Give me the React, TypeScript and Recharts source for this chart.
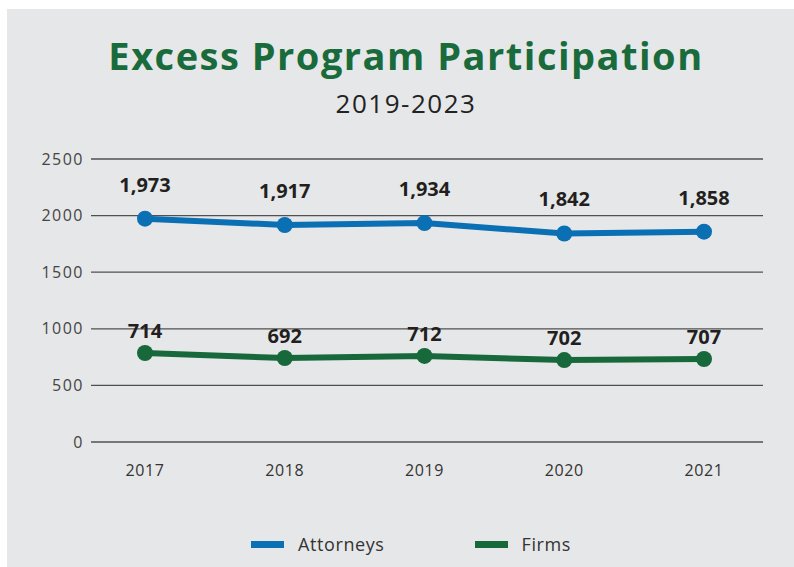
import { LineChart, Line, XAxis, YAxis, CartesianGrid, LabelList } from 'recharts';

const years = ['2017', '2018', '2019', '2020', '2021'];
const attorneys = [1973, 1917, 1934, 1842, 1858];
// Firms points sit a little higher on the plot than their printed labels say
const firmsPlotted = [786, 742, 760, 724, 733];
const firmsLabels = ['714', '692', '712', '702', '707'];
const yTicks = [0, 500, 1000, 1500, 2000, 2500];

const BLUE = '#0b6fb3';
const GREEN = '#17683a';
const FONT = '"Open Sans", sans-serif';

const data = years.map((year, i) => ({
  year,
  attorneys: attorneys[i],
  attorneysLabel: attorneys[i].toLocaleString('en-US'),
  firms: firmsPlotted[i],
  firmsLabel: firmsLabels[i],
}));

const legendItems = [
  { name: 'Attorneys', color: BLUE },
  { name: 'Firms', color: GREEN },
];

export default function App() {
  return (
    <div style={{ position: 'absolute', left: 7, top: 9, width: 787, height: 558, background: '#e6e7e8', overflow: 'hidden' }}>
      <div style={{ position: 'absolute', top: 20, left: 0, width: 798, textAlign: 'center', fontFamily: FONT, fontWeight: 700, fontSize: 38, letterSpacing: 1.5, color: '#1a6b3c' }}>
        Excess Program Participation
      </div>
      <div style={{ position: 'absolute', top: 76, left: 0, width: 798, textAlign: 'center', fontFamily: FONT, fontWeight: 400, fontSize: 26, letterSpacing: 1.5, color: '#222' }}>
        2019-2023
      </div>
      <LineChart
        width={787}
        height={558}
        data={data}
        margin={{ top: 150, right: 31, left: 24, bottom: 95 }}
        style={{ position: 'absolute', left: 0, top: 0 }}
      >
        <CartesianGrid vertical={false} stroke="#505050" strokeWidth={1.3} />
        <XAxis
          dataKey="year"
          axisLine={false}
          tickLine={false}
          tickSize={0}
          tickMargin={23}
          height={30}
          interval={0}
          padding={{ left: 54, right: 59 }}
          tick={{ fill: '#333', fontSize: 16, letterSpacing: 0.6, fontFamily: FONT }}
        />
        <YAxis
          domain={[0, 2500]}
          ticks={yTicks}
          axisLine={false}
          tickLine={false}
          tickSize={0}
          tickMargin={7}
          width={60}
          tick={{ fill: '#444', fontSize: 16, letterSpacing: 1.5, fontFamily: FONT }}
        />
        <Line
          dataKey="attorneys"
          name="Attorneys"
          stroke={BLUE}
          strokeWidth={6}
          dot={{ r: 8, fill: BLUE, stroke: 'none' }}
          activeDot={false}
          isAnimationActive={false}
        >
          <LabelList dataKey="attorneysLabel" position="top" offset={27} fill="#231f20" fontSize={20} fontWeight={700} fontFamily={FONT} />
        </Line>
        <Line
          dataKey="firms"
          name="Firms"
          stroke={GREEN}
          strokeWidth={6}
          dot={{ r: 8, fill: GREEN, stroke: 'none' }}
          activeDot={false}
          isAnimationActive={false}
        >
          <LabelList dataKey="firmsLabel" position="top" offset={15} fill="#231f20" fontSize={20} fontWeight={700} fontFamily={FONT} />
        </Line>
      </LineChart>
      <div style={{ position: 'absolute', top: 523, left: 244, display: 'flex', gap: 90, fontFamily: FONT, fontSize: 18, letterSpacing: 0.6, color: '#333' }}>
        {legendItems.map((item) => (
          <div key={item.name} style={{ display: 'flex', alignItems: 'center', gap: 14 }}>
            <span style={{ display: 'inline-block', width: 33, height: 7, background: item.color }} />
            <span>{item.name}</span>
          </div>
        ))}
      </div>
    </div>
  );
}
